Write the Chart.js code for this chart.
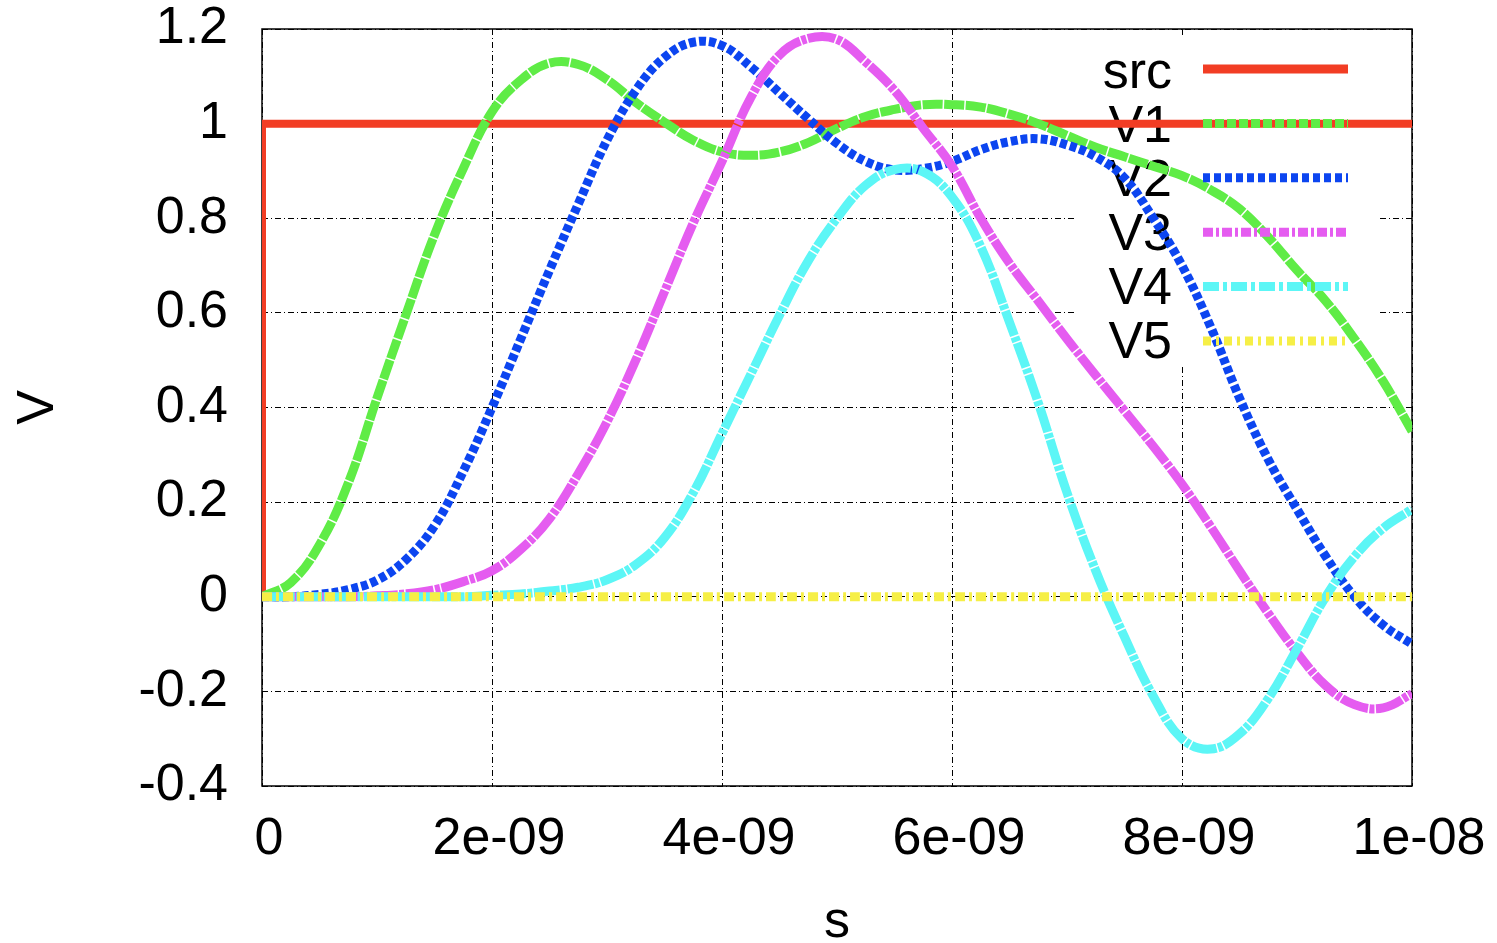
<!DOCTYPE html>
<html>
<head>
<meta charset="utf-8">
<script src="https://cdn.jsdelivr.net/npm/chart.js@4/dist/chart.umd.min.js"></script>
<style>
html,body{margin:0;padding:0;background:#fff;}
#wrap{width:1497px;height:943px;}
</style>
</head>
<body>
<div id="wrap"><canvas id="c" width="1497" height="943"></canvas></div>
<script>
// ---- data (time in ns) ----
const timeNs = [0,0.25,0.5,0.75,1,1.25,1.5,1.75,2,2.25,2.5,2.75,3,3.25,3.5,3.75,4,4.25,4.5,4.75,5,5.25,5.5,5.75,6,6.25,6.5,6.75,7,7.25,7.5,7.75,8,8.25,8.5,8.75,9,9.25,9.5,9.75,10];
const srcTime = [0, 0, 10];
const srcV    = [0, 1, 1];
const v1 = [0,0.03,0.11,0.24,0.42,0.595,0.765,0.905,1.025,1.092,1.128,1.125,1.093,1.045,1.003,0.965,0.94,0.933,0.94,0.96,0.99,1.015,1.03,1.04,1.04,1.035,1.02,1.0,0.975,0.95,0.93,0.91,0.89,0.86,0.82,0.76,0.69,0.625,0.545,0.455,0.35];
const v2 = [0,0,0.005,0.015,0.035,0.078,0.15,0.265,0.4,0.545,0.69,0.83,0.965,1.07,1.14,1.172,1.165,1.12,1.065,1.01,0.958,0.92,0.902,0.905,0.92,0.945,0.962,0.968,0.955,0.93,0.885,0.8,0.7,0.57,0.42,0.29,0.185,0.085,0.0,-0.06,-0.1];
const v3 = [0,0,0,0,0.002,0.006,0.015,0.032,0.055,0.1,0.165,0.26,0.37,0.5,0.645,0.79,0.92,1.055,1.145,1.18,1.178,1.13,1.07,0.99,0.91,0.8,0.705,0.625,0.545,0.468,0.393,0.318,0.238,0.148,0.055,-0.035,-0.118,-0.188,-0.228,-0.235,-0.205];
const v4 = [0,0,0,0,0,0,0,0,0.003,0.006,0.012,0.02,0.036,0.068,0.125,0.22,0.345,0.47,0.595,0.71,0.8,0.87,0.903,0.898,0.845,0.74,0.58,0.41,0.22,0.055,-0.085,-0.21,-0.3,-0.322,-0.29,-0.215,-0.11,0.0,0.085,0.145,0.185];
const v5 = [0,0,0,0,0,0,0,0,0,0,0,0,0,0,0,0,0,0,0,0,0,0,0,0,0,0,0,0,0,0,0,0,0,0,0,0,0,0,0,0,0];

const seriesNames = ['src','V1','V2','V3','V4','V5'];
const xTickValues = [0,2,4,6,8,10];
const xTickLabels = ['0','2e-09','4e-09','6e-09','8e-09','1e-08'];
const yTickValues = [-0.4,-0.2,0,0.2,0.4,0.6,0.8,1,1.2];
const yTickLabels = ['-0.4','-0.2','0','0.2','0.4','0.6','0.8','1','1.2'];

// ---- styles ----
const colors = ['#F23D24','#5FEC46','#0C45F0','#E55CF0','#5CF6F6','#F6EF46'];
const curveDash = [[],[20,1.5],[7,3],[28,1.5,5,1.5],[26,1.5,5,1.5],[10,4,3,4]];
const sampleDash = [[],[9,3],[7,4],[10,3,3,3],[16,4,4,4],[8,5,3,5]];
const FONT = '"Liberation Sans", Arial, Helvetica, sans-serif';

function pts(xs, ys){ return xs.map((x,i)=>({x:x, y:ys[i]})); }
const seriesData = [pts(srcTime, srcV), pts(timeNs, v1), pts(timeNs, v2), pts(timeNs, v3), pts(timeNs, v4), pts(timeNs, v5)];

const datasets = seriesData.map((d,i)=>({
  label: seriesNames[i],
  data: d,
  borderColor: colors[i],
  backgroundColor: colors[i],
  borderWidth: i===0 ? 8 : 9,
  borderDash: curveDash[i],
  pointRadius: 0,
  fill: false,
  tension: i===0 ? 0 : 0.4,
  order: 5 - i
}));

const gpLegend = {
  id: 'gpLegend',
  beforeDatasetsDraw(chart){
    const ctx = chart.ctx, a = chart.chartArea;
    ctx.save();
    ctx.fillStyle = '#fff';
    ctx.fillRect(a.left + 812, a.top + 8, 306, 330);
    ctx.setLineDash([]);
    ctx.strokeStyle = '#000';
    ctx.lineWidth = 1.5;
    ctx.strokeRect(a.left, a.top, a.right - a.left, a.bottom - a.top);
    ctx.font = '52px ' + FONT;
    ctx.textAlign = 'right';
    ctx.textBaseline = 'alphabetic';
    ctx.fillStyle = '#000';
    seriesNames.forEach((n,i)=>{ ctx.fillText(n, a.left + 910, a.top + 59 + i*54); });
    ctx.restore();
  },
  afterDatasetsDraw(chart){
    const ctx = chart.ctx, a = chart.chartArea;
    ctx.save();
    seriesNames.forEach((n,i)=>{
      const y = a.top + 40 + i*54.4;
      ctx.beginPath();
      ctx.setLineDash(sampleDash[i]);
      ctx.strokeStyle = colors[i];
      ctx.lineWidth = 9;
      ctx.lineCap = 'butt';
      ctx.moveTo(a.left + 941, y);
      ctx.lineTo(a.left + 1086, y);
      ctx.stroke();
    });
    ctx.restore();
  }
};

Chart.defaults.font.family = FONT;
Chart.defaults.color = '#000';

new Chart(document.getElementById('c'), {
  type: 'line',
  data: { datasets },
  options: {
    responsive: false,
    animation: false,
    devicePixelRatio: 1,
    layout: { padding: { left: 0, right: 85, top: 29, bottom: 0 } },
    plugins: { legend: { display: false }, tooltip: { enabled: false } },
    scales: {
      x: {
        type: 'linear',
        min: 0, max: 10,
        afterBuildTicks: s => { s.ticks = xTickValues.map(v=>({value:v})); },
        afterFit: s => { s.height = 157; s.paddingLeft = 0; s.paddingRight = 0; },
        ticks: {
          callback: (v, i) => xTickLabels[i],
          font: { size: 52 },
          padding: 22,
          labelOffset: 7,
          maxRotation: 0,
          autoSkip: false
        },
        grid: { color: '#000', lineWidth: 1, drawTicks: false },
        border: { display: false, dash: [6,3,1,3] },
        title: { display: true, text: 's', font: { size: 52, lineHeight: 0.8 }, padding: 0 }
      },
      y: {
        type: 'linear',
        min: -0.4, max: 1.2,
        afterBuildTicks: s => { s.ticks = yTickValues.map(v=>({value:v})); },
        afterFit: s => { s.width = 262; s.paddingTop = 0; s.paddingBottom = 0; },
        ticks: {
          callback: (v, i) => yTickLabels[i],
          font: { size: 52 },
          padding: 34,
          autoSkip: false
        },
        grid: { color: '#000', lineWidth: 1, drawTicks: false },
        border: { display: false, dash: [6,3,1,3] },
        title: { display: true, text: 'V', font: { size: 52, lineHeight: 1.2 }, padding: { top: 7, bottom: 0 } }
      }
    }
  },
  plugins: [gpLegend]
});
</script>
</body>
</html>
